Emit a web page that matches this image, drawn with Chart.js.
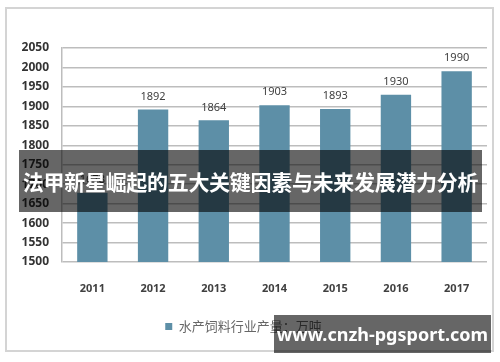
<!DOCTYPE html>
<html lang="zh">
<head>
    <meta charset="UTF-8">
    <title>水产饲料行业产量</title>
    <script src="https://cdn.jsdelivr.net/npm/chart.js"></script>
    <style>
        body { margin: 0; background: #fff; }
        .wrap { position: relative; width: 500px; height: 362px; }
        .frame {
            position: absolute; left: 5px; top: 7px; width: 485px; height: 341px;
            border: 2px solid #d4d4d4; pointer-events: none;
        }
        .banner {
            position: absolute; left: 19px; top: 150px; width: 463px; height: 62px;
            background: rgba(0, 0, 0, 0.6); color: #fff;
            font: bold 21px "Noto Sans CJK SC", sans-serif;
            display: flex; align-items: center; justify-content: center;
            white-space: nowrap; letter-spacing: -0.3px;
        }
        .mark {
            position: absolute; left: 274px; top: 315px; width: 217px; height: 38px;
            background: rgba(0, 0, 0, 0.6); color: #fff;
            font: bold 18px "Noto Sans", sans-serif;
            display: flex; align-items: center; justify-content: center;
        }
    </style>
</head>
<body>
    <div class="wrap">
        <canvas id="chart" width="500" height="362"></canvas>
        <div class="frame"></div>
        <div class="banner">法甲新星崛起的五大关键因素与未来发展潜力分析</div>
        <div class="mark">www.cnzh-pgsport.com</div>
    </div>

    <script>
        // 数据
        const years = ['2011', '2012', '2013', '2014', '2015', '2016', '2017'];
        const output = [1678, 1892, 1864, 1903, 1893, 1930, 1990];
        const seriesName = '水产饲料行业产量：万吨';
        const yMin = 1500, yMax = 2050, yStep = 50;

        // 柱顶数值
        const valueLabels = {
            id: 'valueLabels',
            afterDatasetsDraw(chart) {
                const ctx = chart.ctx;
                const meta = chart.getDatasetMeta(0);
                ctx.save();
                ctx.font = '11px "Noto Sans", sans-serif';
                ctx.fillStyle = '#404040';
                ctx.textAlign = 'center';
                ctx.textBaseline = 'middle';
                meta.data.forEach((bar, i) => {
                    ctx.fillText(output[i], bar.x, bar.y - 13);
                });
                ctx.restore();
            }
        };

        new Chart(document.getElementById('chart'), {
            type: 'bar',
            data: {
                labels: years,
                datasets: [{
                    label: seriesName,
                    data: output,
                    backgroundColor: '#5d8fa7',
                    barPercentage: 0.5,
                    categoryPercentage: 1.0
                }]
            },
            options: {
                responsive: false,
                animation: false,
                layout: { padding: { top: 48, right: 13, bottom: 19, left: 0 } },
                plugins: {
                    tooltip: { enabled: false },
                    legend: {
                        position: 'bottom',
                        labels: {
                            boxWidth: 7, boxHeight: 7,
                            color: '#666666',
                            font: { family: '"Noto Sans CJK SC", sans-serif', size: 13 }
                        }
                    }
                },
                scales: {
                    x: {
                        grid: { display: false },
                        border: { display: false },
                        ticks: {
                            color: '#404040', padding: 12,
                            font: { family: '"Noto Sans", sans-serif', size: 11, weight: 'bold' }
                        },
                        afterFit(scale) { scale.height = 48; }
                    },
                    y: {
                        min: yMin, max: yMax,
                        grid: { color: '#bdbdbd', lineWidth: 1.5, drawTicks: false },
                        border: { display: true, color: '#bdbdbd', width: 1.5 },
                        ticks: {
                            stepSize: yStep, color: '#333333', padding: 13,
                            callback: v => String(v),
                            font: { family: '"Noto Sans", sans-serif', size: 12, weight: 'bold' }
                        },
                        afterFit(scale) { scale.width = 62; }
                    }
                }
            },
            plugins: [valueLabels]
        });
    </script>
</body>
</html>
